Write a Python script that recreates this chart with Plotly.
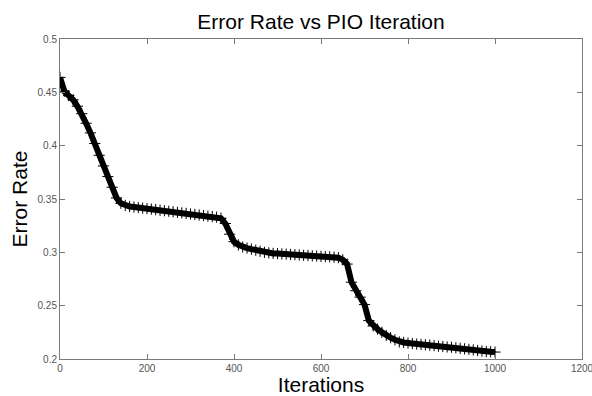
import plotly.graph_objects as go

iterations = list(range(0, 1001, 10))
error_rate = [
    0.464, 0.451, 0.447, 0.443, 0.437, 0.430, 0.421, 0.412, 0.402, 0.391,
    0.381, 0.371, 0.361, 0.351, 0.346, 0.344, 0.343, 0.3425, 0.342, 0.3415,
    0.341, 0.3405, 0.340, 0.3395, 0.339, 0.3385, 0.338, 0.3375, 0.337, 0.3365,
    0.336, 0.3355, 0.335, 0.3345, 0.334, 0.3335, 0.333, 0.332, 0.327, 0.317,
    0.310, 0.307, 0.305, 0.304, 0.303, 0.302, 0.301, 0.300, 0.2995, 0.299,
    0.2988, 0.2985, 0.2983, 0.298, 0.2978, 0.2975, 0.2972, 0.297, 0.2967, 0.2965,
    0.2962, 0.296, 0.2958, 0.2955, 0.295, 0.293, 0.289, 0.272, 0.264, 0.258,
    0.251, 0.236, 0.231, 0.228, 0.225, 0.222, 0.220, 0.218, 0.216, 0.2155,
    0.215, 0.2145, 0.214, 0.2137, 0.2133, 0.213, 0.2125, 0.212, 0.2117, 0.2113,
    0.211, 0.2105, 0.210, 0.2095, 0.209, 0.2085, 0.208, 0.2075, 0.207, 0.2068,
    0.2065,
]

x_ticks = [0, 200, 400, 600, 800, 1000, 1200]
y_ticks = [0.2, 0.25, 0.3, 0.35, 0.4, 0.45, 0.5]
y_tick_labels = ["0.2", "0.25", "0.3", "0.35", "0.4", "0.45", "0.5"]

fig = go.Figure()
fig.add_trace(go.Scatter(
    x=iterations, y=error_rate, mode="lines+markers",
    line=dict(color="black", width=6),
    marker=dict(symbol="cross-thin", size=8, color="black",
                line=dict(color="black", width=1)),
    showlegend=False, hoverinfo="x+y",
))

font = "Liberation Sans, Arial, sans-serif"
axis_common = dict(
    showline=True, linecolor="#7a7a7a", linewidth=1, mirror="ticks",
    ticks="inside", ticklen=5, tickcolor="#7a7a7a", tickwidth=1,
    showgrid=False, zeroline=False, automargin=False,
    tickfont=dict(family=font, size=10, color="#555555"),
)

fig.update_layout(
    width=592, height=396,
    margin=dict(l=60, r=10, t=39, b=37, autoexpand=False),
    paper_bgcolor="white", plot_bgcolor="white",
    title=dict(text="Error Rate vs PIO Iteration", x=0.5, xref="paper",
               xanchor="center",
               y=1 - 22 / 396, yanchor="middle", yref="container",
               automargin=False,
               font=dict(family=font, size=21, color="black")),
    xaxis=dict(range=[0, 1200], tickvals=x_ticks, ticklabeloverflow="allow",
               title=dict(text="Iterations", standoff=2,
                          font=dict(family=font, size=21, color="black")),
               **axis_common),
    yaxis=dict(range=[0.2, 0.5], tickvals=y_ticks, ticktext=y_tick_labels,
               title=dict(text="Error Rate", standoff=4,
                          font=dict(family=font, size=21, color="black")),
               **axis_common),
)

fig.write_html("out.html", config={"displayModeBar": False},
               post_script="document.body.style.margin='0';document.body.style.overflow='hidden';")
